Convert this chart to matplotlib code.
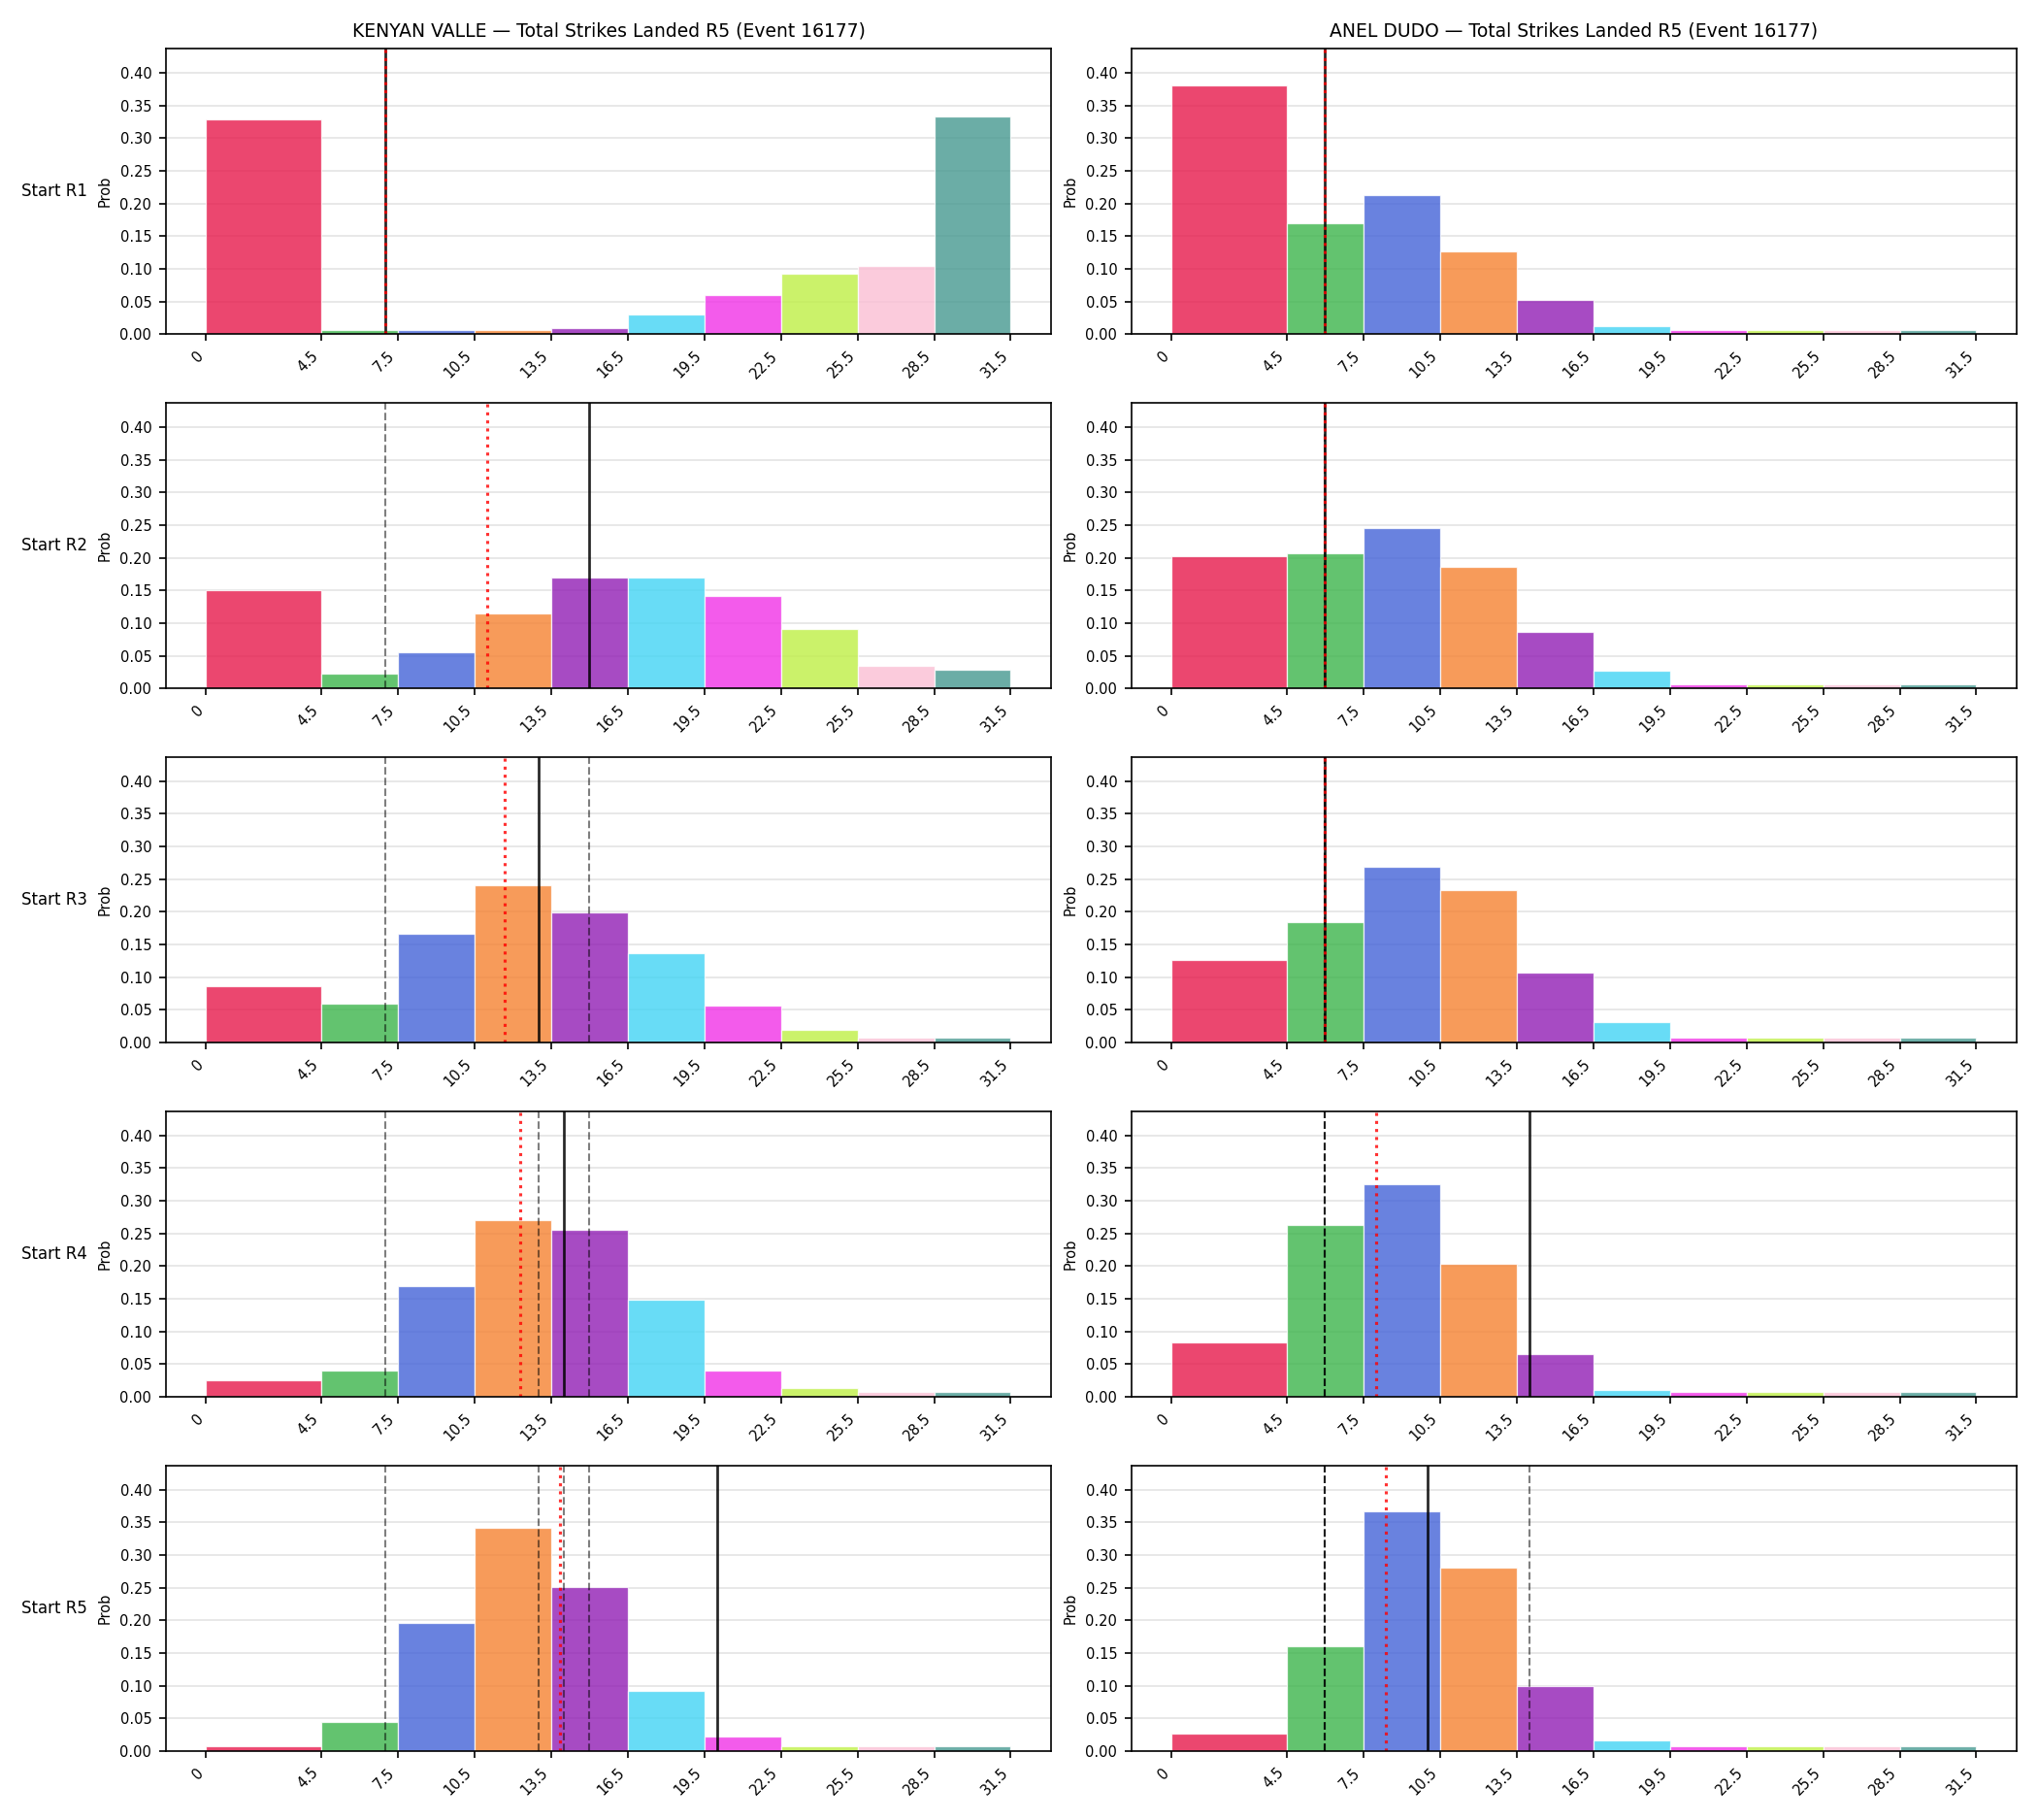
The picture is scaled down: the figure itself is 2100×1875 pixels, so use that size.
import numpy as np
import matplotlib
matplotlib.use("Agg")
import matplotlib.pyplot as plt


# 구간 경계 (strikes)
bin_edges = [0, 4.5, 7.5, 10.5, 13.5, 16.5, 19.5, 22.5, 25.5, 28.5, 31.5]
tick_labels = ["0", "4.5", "7.5", "10.5", "13.5", "16.5", "19.5", "22.5", "25.5", "28.5", "31.5"]

bar_colors = ["#e6194b", "#3cb44b", "#4363d8", "#f58231", "#911eb4",
              "#42d4f4", "#f032e6", "#bfef45", "#fabed4", "#469990"]

row_labels = ["Start R1", "Start R2", "Start R3", "Start R4", "Start R5"]

left_title = "KENYAN VALLE — Total Strikes Landed R5 (Event 16177)"
right_title = "ANEL DUDO — Total Strikes Landed R5 (Event 16177)"

# KENYAN VALLE 확률
valle_r1 = [0.328, 0.007, 0.007, 0.007, 0.009, 0.030, 0.060, 0.092, 0.105, 0.333]
valle_r2 = [0.151, 0.022, 0.056, 0.114, 0.169, 0.169, 0.142, 0.091, 0.035, 0.029]
valle_r3 = [0.086, 0.059, 0.166, 0.241, 0.199, 0.137, 0.056, 0.020, 0.007, 0.007]
valle_r4 = [0.026, 0.040, 0.169, 0.270, 0.255, 0.148, 0.040, 0.014, 0.007, 0.007]
valle_r5 = [0.007, 0.044, 0.196, 0.342, 0.251, 0.092, 0.022, 0.007, 0.007, 0.007]

# ANEL DUDO 확률
dudo_r1 = [0.380, 0.170, 0.213, 0.127, 0.052, 0.012, 0.007, 0.007, 0.007, 0.007]
dudo_r2 = [0.202, 0.207, 0.245, 0.186, 0.087, 0.027, 0.007, 0.007, 0.007, 0.007]
dudo_r3 = [0.127, 0.185, 0.269, 0.233, 0.107, 0.031, 0.007, 0.007, 0.007, 0.007]
dudo_r4 = [0.083, 0.263, 0.326, 0.204, 0.065, 0.010, 0.007, 0.007, 0.007, 0.007]
dudo_r5 = [0.027, 0.160, 0.366, 0.281, 0.099, 0.016, 0.007, 0.007, 0.007, 0.007]

# 실제값 (검은 실선) / 중앙값 (빨간 점선)
valle_actual = [7, 15, 13, 14, 20]
valle_median = [7, 11, 11.7, 12.3, 13.85]
dudo_actual = [6, 6, 6, 14, 10]
dudo_median = [6, 6, 6, 8, 8.4]

valle_probs = [valle_r1, valle_r2, valle_r3, valle_r4, valle_r5]
dudo_probs = [dudo_r1, dudo_r2, dudo_r3, dudo_r4, dudo_r5]

fighters = [
    (left_title, valle_probs, valle_actual, valle_median),
    (right_title, dudo_probs, dudo_actual, dudo_median),
]

ymax = max(max(p) for p in valle_probs + dudo_probs) * 1.15
widths = np.diff(bin_edges)

fig, axes = plt.subplots(5, 2, figsize=(14, 12.5), dpi=150)
fig.subplots_adjust(left=0.0814, right=0.9895, top=0.9733, bottom=0.0379,
                    wspace=0.091, hspace=0.24)

for col, (title, probs, actual, median) in enumerate(fighters):
    for row in range(5):
        ax = axes[row, col]
        ax.set_axisbelow(True)
        ax.bar(bin_edges[:-1], probs[row], width=widths, align="edge",
               color=bar_colors, alpha=0.8, edgecolor="white", linewidth=0.6)

        # 이전 라운드 실제값
        for prev in actual[:row]:
            ax.axvline(prev, color="k", linestyle="--", linewidth=1, alpha=0.5)
        ax.axvline(actual[row], color="k", linewidth=1.3, alpha=0.85)
        ax.axvline(median[row], color="red", linestyle=":", linewidth=1.5, alpha=0.8)

        ax.set_ylim(0, ymax)
        ax.set_xticks(bin_edges)
        ax.set_xticklabels(tick_labels, rotation=45, ha="right")
        ax.tick_params(labelsize=7)
        ax.set_ylabel("Prob", fontsize=7)
        ax.grid(axis="y", color="#dddddd", linewidth=0.8, alpha=0.8)

        if row == 0:
            ax.set_title(title, fontsize=9)
        if col == 0:
            ax.text(-0.089, 0.5, row_labels[row], transform=ax.transAxes,
                    ha="right", va="center", fontsize=8)

plt.savefig("out.png", dpi=150)
